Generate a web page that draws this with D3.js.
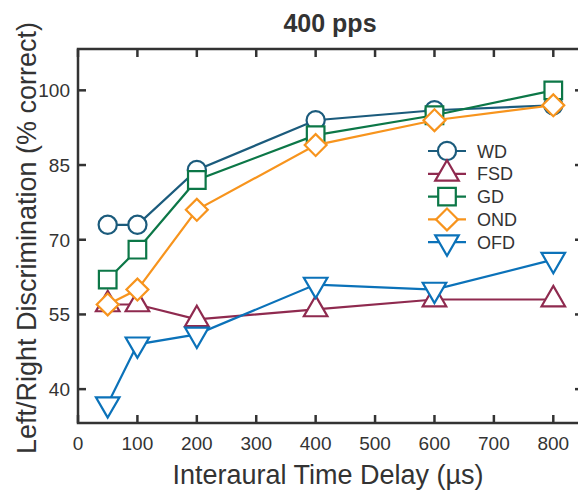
<!DOCTYPE html>
<html>
<head>
<meta charset="utf-8">
<script src="https://cdn.jsdelivr.net/npm/d3@7"></script>
<style>
  body { margin: 0; background: #fff; }
  text { font-family: "Liberation Sans", Arial, sans-serif; fill: #333; }
</style>
</head>
<body>
<div class="main-graph"></div>
<script>
// data
var delays = [50, 100, 200, 400, 600, 800];
var wd  = [73, 73, 84, 94, 96, 97];
var fsd = [57, 57, 54, 56, 58, 58];
var gd  = [62, 68, 82, 91, 95, 100];
var ond = [57, 60, 76, 89, 94, 97];
var ofd = [37, 49, 51, 61, 60, 66];
var seriesNames = ["WD", "FSD", "GD", "OND", "OFD"];
var xTicks = [0, 100, 200, 300, 400, 500, 600, 700, 800];
var yTicks = [40, 55, 70, 85, 100];

var series = [
  {name: "WD",  vals: wd,  color: "#1b5b7c", shape: "circle"},
  {name: "FSD", vals: fsd, color: "#8f2a4f", shape: "up"},
  {name: "GD",  vals: gd,  color: "#0c7747", shape: "square"},
  {name: "OND", vals: ond, color: "#f7941d", shape: "diamond"},
  {name: "OFD", vals: ofd, color: "#0b72b9", shape: "down"}
];

var W = 578, H = 492;
var margin = {top: 49, right: -5, bottom: 69, left: 78},
    width = W - margin.left - margin.right,
    height = H - margin.top - margin.bottom;

var svg = d3.select(".main-graph")
            .append("svg")
            .attr("width", W)
            .attr("height", H);
var g = svg.append("g")
           .attr("transform", "translate(" + margin.left + "," + margin.top + ")");

var x = d3.scaleLinear().domain([0, 850]).range([0, width]);
var y = d3.scaleLinear().domain([33.2, 108.3]).range([height, 0]);

var axisColor = "#333";
var tk = 8;

// box
g.append("rect")
  .attr("width", width).attr("height", height)
  .attr("fill", "none").attr("stroke", axisColor).attr("stroke-width", 2.5);

// inward ticks
g.selectAll(".xb").data(xTicks).enter().append("line")
  .attr("x1", d => x(d)).attr("x2", d => x(d))
  .attr("y1", height).attr("y2", height - tk)
  .attr("stroke", axisColor).attr("stroke-width", 2.5);
g.selectAll(".xt").data(xTicks).enter().append("line")
  .attr("x1", d => x(d)).attr("x2", d => x(d))
  .attr("y1", 0).attr("y2", tk)
  .attr("stroke", axisColor).attr("stroke-width", 2.5);
g.selectAll(".yl").data(yTicks).enter().append("line")
  .attr("x1", 0).attr("x2", tk)
  .attr("y1", d => y(d)).attr("y2", d => y(d))
  .attr("stroke", axisColor).attr("stroke-width", 2.5);
g.selectAll(".yr").data(yTicks).enter().append("line")
  .attr("x1", width).attr("x2", width - tk)
  .attr("y1", d => y(d)).attr("y2", d => y(d))
  .attr("stroke", axisColor).attr("stroke-width", 2.5);

// tick labels
g.selectAll(".xl").data(xTicks).enter().append("text")
  .attr("x", d => x(d)).attr("y", height + 27)
  .attr("text-anchor", "middle").style("font-size", "19px")
  .text(d => d);
g.selectAll(".ylab").data(yTicks).enter().append("text")
  .attr("x", -8).attr("y", d => y(d) + 7)
  .attr("text-anchor", "end").style("font-size", "19px")
  .text(d => d);

// titles
svg.append("text")
  .attr("x", 330).attr("y", 32)
  .attr("text-anchor", "middle")
  .style("font-size", "25px").style("font-weight", "bold")
  .text("400 pps");
svg.append("text")
  .attr("x", 328).attr("y", 484)
  .attr("text-anchor", "middle")
  .style("font-size", "27px")
  .text("Interaural Time Delay (\u00b5s)");
svg.append("text")
  .attr("text-anchor", "middle")
  .style("font-size", "27px")
  .attr("transform", "translate(36," + 238 + ")rotate(-90)")
  .text("Left/Right Discrimination (% correct)");

// markers
function marker(sel, shape, color) {
  var sz = {circle: 260, up: 240, down: 240, square: 310, diamond: 240};
  var t = {circle: d3.symbolCircle, up: d3.symbolTriangle, down: d3.symbolTriangle,
           square: d3.symbolSquare, diamond: d3.symbolSquare}[shape];
  sel.append("path")
    .attr("d", d3.symbol().type(t).size(sz[shape]))
    .attr("transform", shape === "down" ? "rotate(180)" : shape === "diamond" ? "rotate(45)" : "")
    .attr("fill", "#fff")
    .attr("stroke", color)
    .attr("stroke-width", 2.2);
}

var line = d3.line()
  .x((d, i) => x(delays[i]))
  .y(d => y(d));

series.forEach(function(s) {
  g.append("path")
    .attr("d", line(s.vals))
    .attr("fill", "none")
    .attr("stroke", s.color)
    .attr("stroke-width", 2.2);
  var pts = g.selectAll(".p-" + s.name).data(s.vals).enter().append("g")
    .attr("transform", (d, i) => "translate(" + x(delays[i]) + "," + y(d) + ")");
  marker(pts, s.shape, s.color);
});

// legend
var leg = svg.append("g").attr("transform", "translate(428,151)");
series.forEach(function(s, i) {
  var row = leg.append("g").attr("transform", "translate(0," + (i * 22.8) + ")");
  row.append("line")
    .attr("x1", 0).attr("x2", 38)
    .attr("stroke", s.color).attr("stroke-width", 2.2);
  var m = row.append("g").attr("transform", "translate(19,0)");
  marker(m, s.shape, s.color);
  row.append("text")
    .attr("x", 49).attr("y", 6.5)
    .style("font-size", "18px")
    .text(seriesNames[i]);
});
</script>
</body>
</html>
